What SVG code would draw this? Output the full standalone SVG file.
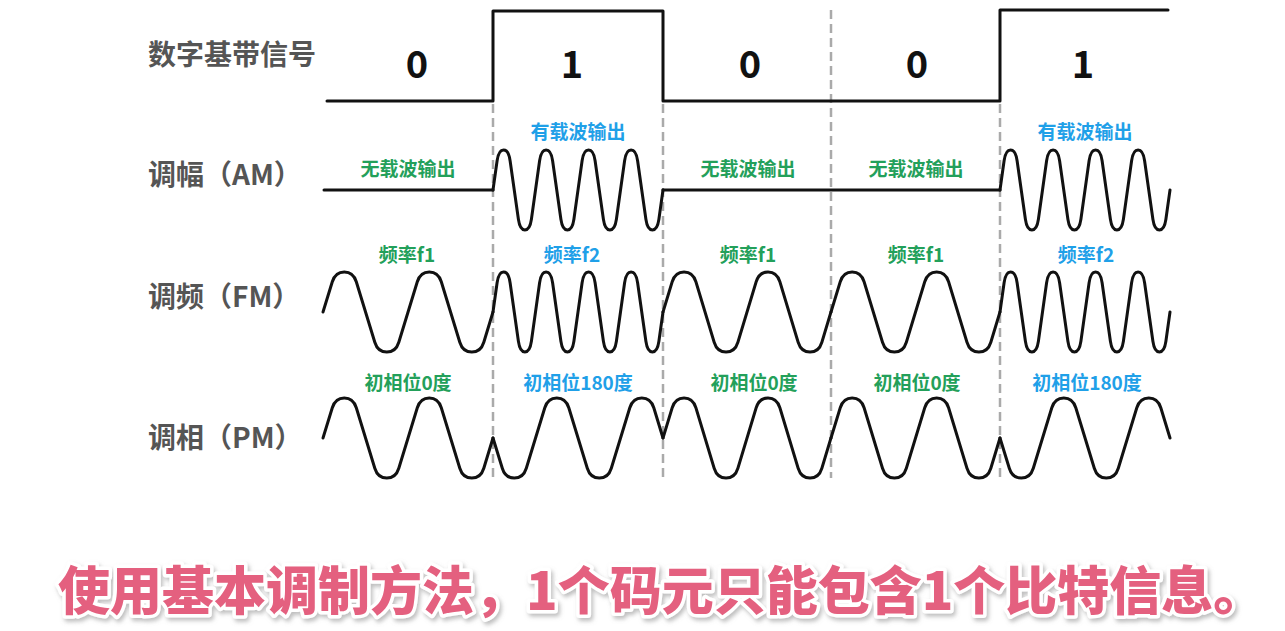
<svg xmlns="http://www.w3.org/2000/svg" width="1285" height="631" viewBox="0 0 1285 631">
<style>
.wave{fill:none;stroke:#111;stroke-width:3;stroke-linecap:round;stroke-linejoin:round}
.dash{stroke:#aaa;stroke-width:2.5;stroke-dasharray:9 5}
.row{font-family:'Noto Sans CJK SC','Liberation Sans',sans-serif;font-weight:bold;font-size:28px;fill:#555}
.bit{font-family:'Noto Sans CJK SC','Liberation Sans',sans-serif;font-weight:bold;font-size:38px;fill:#111;text-anchor:middle}
.g,.b{font-family:'Noto Sans CJK SC','Liberation Sans',sans-serif;font-weight:bold;font-size:19px;text-anchor:middle}
.g{fill:#23a05a}
.b{fill:#1fa0e8}
.sub{font-family:'Noto Sans CJK SC','Liberation Sans',sans-serif;font-weight:900;font-size:52px;fill:#e4607f;stroke:#fff;stroke-width:7;stroke-linejoin:round;paint-order:stroke}
</style>
<defs>
<path id="c4" d="M0,0 L4.1,-29.3 Q5.6,-40 10.6,-40 Q15.6,-40 17.1,-29.3 L25.4,29.3 Q26.9,40 31.9,40 Q36.9,40 38.4,29.3 L46.6,-29.3 Q48.1,-40 53.1,-40 Q58.1,-40 59.6,-29.3 L67.9,29.3 Q69.4,40 74.4,40 Q79.4,40 80.9,29.3 L89.1,-29.3 Q90.6,-40 95.6,-40 Q100.6,-40 102.1,-29.3 L110.4,29.3 Q111.9,40 116.9,40 Q121.9,40 123.4,29.3 L131.6,-29.3 Q133.1,-40 138.1,-40 Q143.1,-40 144.6,-29.3 L152.9,29.3 Q154.4,40 159.4,40 Q164.4,40 165.9,29.3 L170,0"/>
<path id="c2" d="M0,0 L9.3,-30.2 Q12.3,-40 21.3,-40 Q30.3,-40 33.3,-30.2 L51.8,30.2 Q54.8,40 63.8,40 Q72.8,40 75.8,30.2 L94.3,-30.2 Q97.3,-40 106.3,-40 Q115.3,-40 118.3,-30.2 L136.8,30.2 Q139.8,40 148.8,40 Q157.8,40 160.8,30.2 L170,0"/>
<filter id="sh" filterUnits="userSpaceOnUse" x="0" y="535" width="1285" height="96">
<feDropShadow dx="2" dy="3" stdDeviation="2" flood-color="#888" flood-opacity="0.55"/>
</filter>
</defs>
<rect width="1285" height="631" fill="#fff"/>

<g id="dividers">
<line class="dash" x1="493" y1="104" x2="493" y2="478"/>
<line class="dash" x1="663" y1="104" x2="663" y2="478"/>
<line class="dash" x1="831" y1="10" x2="831" y2="478"/>
<line class="dash" x1="1000" y1="104" x2="1000" y2="478"/>
</g>

<g id="row-labels" class="row">
<text x="148" y="65">数字基带信号</text>
<text x="148" y="185">调幅（AM）</text>
<text x="148" y="307">调频（FM）</text>
<text x="148" y="448">调相（PM）</text>
</g>

<g id="digital">
<path class="wave" d="M327,101 L493,101 L493,11 L663,11 L663,101 L1000,101 L1000,10 L1168,10"/>
<g class="bit">
<text x="417" y="78">0</text>
<text x="572" y="78">1</text>
<text x="750" y="78">0</text>
<text x="917" y="78">0</text>
<text x="1083" y="78">1</text>
</g>
</g>

<g id="am">
<g class="wave">
<path d="M324,190 L493,190"/>
<use href="#c4" transform="translate(493,190)"/>
<path d="M663,190 L1000,190"/>
<use href="#c4" transform="translate(1000,190)"/>
</g>
<text class="g" x="408" y="176">无载波输出</text>
<text class="b" x="578" y="139">有载波输出</text>
<text class="g" x="748" y="176">无载波输出</text>
<text class="g" x="916" y="176">无载波输出</text>
<text class="b" x="1085" y="139">有载波输出</text>
</g>

<g id="fm">
<g class="wave">
<use href="#c2" transform="translate(323,312)"/>
<use href="#c4" transform="translate(493,312)"/>
<use href="#c2" transform="translate(663,312) scale(0.988,1)"/>
<use href="#c2" transform="translate(831,312) scale(0.994,1)"/>
<use href="#c4" transform="translate(1000,312)"/>
</g>
<text class="g" x="407" y="262">频率f1</text>
<text class="b" x="572" y="262">频率f2</text>
<text class="g" x="748" y="262">频率f1</text>
<text class="g" x="916" y="262">频率f1</text>
<text class="b" x="1086" y="262">频率f2</text>
</g>

<g id="pm">
<g class="wave">
<use href="#c2" transform="translate(323,438)"/>
<use href="#c2" transform="translate(493,438) scale(1,-1)"/>
<use href="#c2" transform="translate(663,438) scale(0.988,1)"/>
<use href="#c2" transform="translate(831,438) scale(0.994,1)"/>
<use href="#c2" transform="translate(1000,438) scale(1,-1)"/>
</g>
<text class="g" x="408" y="390">初相位0度</text>
<text class="b" x="578" y="390">初相位180度</text>
<text class="g" x="754" y="390">初相位0度</text>
<text class="g" x="917" y="390">初相位0度</text>
<text class="b" x="1087" y="390">初相位180度</text>
</g>

<g id="caption" filter="url(#sh)">
<text class="sub" x="58" y="610">使用基本调制方法，1个码元只能包含1个比特信息。</text>
</g>
</svg>
